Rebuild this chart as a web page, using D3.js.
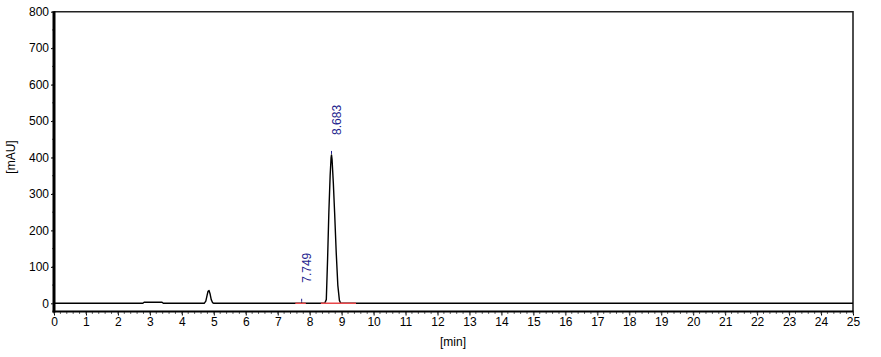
<!DOCTYPE html>
<html><head><meta charset="utf-8">
<script src="https://cdn.jsdelivr.net/npm/d3@7"></script>
<style>
html,body{margin:0;padding:0;background:#fff;}
svg{display:block;font-family:"Liberation Sans",Arial,sans-serif;}
</style></head>
<body><svg id="c" width="881" height="357"></svg>
<script>
// Chromatogram trace (time in min, signal in mAU)
const traceTime = [0, 2.78, 2.82, 3.38, 3.42, 4.70, 4.75, 4.79, 4.82, 4.85, 4.88, 4.92, 4.96, 5.00,
  7.73, 7.749, 7.77, 8.47, 8.52, 8.56, 8.60, 8.64, 8.67, 8.683, 8.70, 8.74, 8.78, 8.83, 8.88, 8.93, 8.97, 25];
const traceValue = [0, 0, 3, 3, 0, 0, 6, 22, 33, 35, 27, 10, 2, 0,
  0, 1.5, 0, 0, 10, 120, 250, 350, 400, 407, 395, 330, 250, 140, 50, 8, 0, 0];
// Integration baselines (start, end in min)
const baseStart = [7.55, 8.35];
const baseEnd = [7.88, 9.45];
// Peak labels
const peakTimes = [7.749, 8.683];
const peakValues = [1.5, 407];
const peakLabels = ["7.749", "8.683"];
// Axes
const xTicks = d3.range(0, 26, 1);
const yTicks = [0, 100, 200, 300, 400, 500, 600, 700, 800];
const xTitle = "[min]";
const yTitle = "[mAU]";

const svg = d3.select("#c");
const L = 54, R = 853, T = 11.7, B = 311.5;
const x = d3.scaleLinear().domain([0, 25]).range([L, R]);
const y = d3.scaleLinear().domain([-22.5, 800]).range([B, T]);

// frame (top and right)
svg.append("path").attr("d", `M${L},${T}H${R}V${B}`).attr("fill", "none")
  .attr("stroke", "#222").attr("stroke-width", 1.6);

// trace
const pts = traceTime.map((t, i) => [t, traceValue[i]]);
const line = d3.line().x(d => x(d[0])).y(d => y(d[1]));
svg.append("path").datum(pts).attr("d", line).attr("fill", "none")
  .attr("stroke", "#000").attr("stroke-width", 1.4).attr("stroke-linejoin", "round");

// red integration baselines
svg.selectAll(".bl").data(baseStart).enter().append("line")
  .attr("x1", d => x(d)).attr("x2", (d, i) => x(baseEnd[i]))
  .attr("y1", y(0)).attr("y2", y(0))
  .attr("stroke", "#e8474a").attr("stroke-width", 1.4);

// peak labels
peakTimes.forEach((t, i) => {
  const px = x(t), py = y(peakValues[i]);
  svg.append("line").attr("x1", px).attr("x2", px).attr("y1", py - 1).attr("y2", py - 4)
    .attr("stroke", "#1f1f8f").attr("stroke-width", 1);
  svg.append("text").attr("transform", `translate(${px + 9},${py - 20}) rotate(-90)`)
    .attr("font-size", 12).attr("fill", "#1f1f8f").text(peakLabels[i]);
});

// x axis
const xAxis = d3.axisBottom(x).tickValues(xTicks).tickSize(4).tickPadding(2).tickFormat(d3.format("d"));
const gx = svg.append("g").attr("transform", `translate(0,${B})`).call(xAxis);
gx.select(".domain").remove();
gx.selectAll("line").attr("stroke", "#000");
gx.selectAll("text").attr("font-size", 12).attr("fill", "#000").attr("font-family", "Liberation Sans, Arial, sans-serif");
svg.append("g").selectAll("line").data(d3.range(0, 25.01, 0.2)).enter().append("line")
  .attr("x1", d => x(d)).attr("x2", d => x(d)).attr("y1", B).attr("y2", B + 2.5)
  .attr("stroke", "#666").attr("stroke-width", 1);
svg.append("line").attr("x1", L - 1.5).attr("x2", R + 0.5).attr("y1", B).attr("y2", B)
  .attr("stroke", "#000").attr("stroke-width", 2.2);

// y axis
const yAxis = d3.axisLeft(y).tickValues(yTicks).tickSize(3).tickPadding(2);
const gy = svg.append("g").attr("transform", `translate(${L},0)`).call(yAxis);
gy.select(".domain").remove();
gy.selectAll("line").attr("stroke", "#000");
gy.selectAll("text").attr("font-size", 12).attr("fill", "#000").attr("font-family", "Liberation Sans, Arial, sans-serif");
svg.append("g").selectAll("line").data(d3.range(-0, 801, 50)).enter().append("line")
  .attr("x1", L - 2).attr("x2", L).attr("y1", d => y(d)).attr("y2", d => y(d))
  .attr("stroke", "#666").attr("stroke-width", 1);
svg.append("line").attr("x1", L).attr("x2", L).attr("y1", T - 0.5).attr("y2", B + 1)
  .attr("stroke", "#000").attr("stroke-width", 3);

// titles
svg.append("text").attr("x", 453).attr("y", 346).attr("text-anchor", "middle")
  .attr("font-size", 12).text(xTitle);
svg.append("text").attr("transform", "translate(15,157) rotate(-90)").attr("text-anchor", "middle")
  .attr("font-size", 12).text(yTitle);
</script></body></html>
